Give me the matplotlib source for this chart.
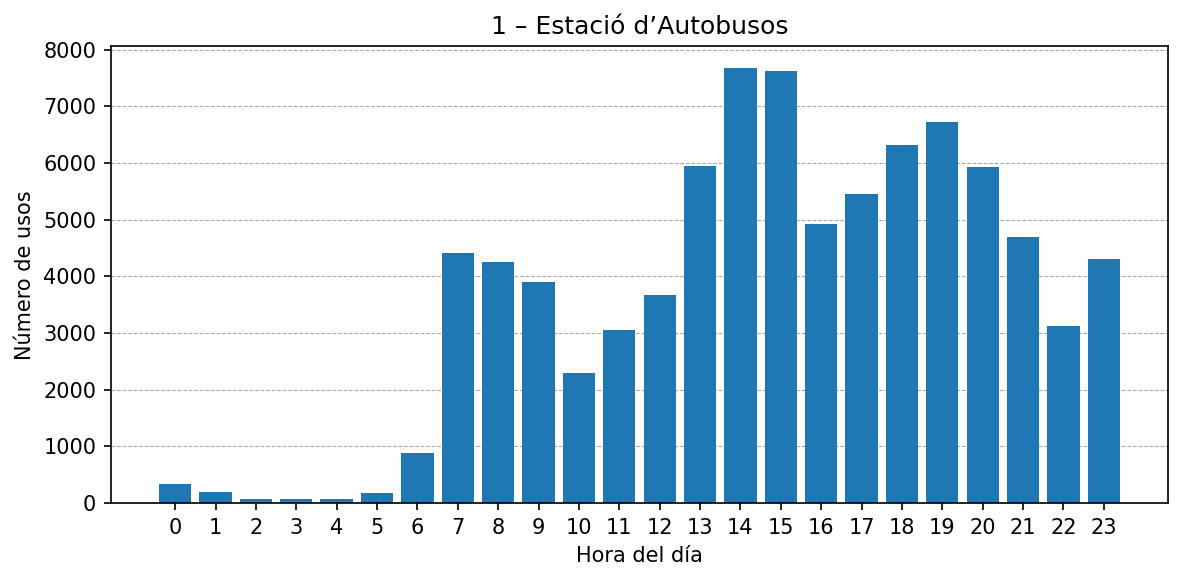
import numpy as np
import matplotlib.pyplot as plt

horas = list(range(24))
usos = [330, 200, 80, 80, 80, 180, 890, 4420, 4260, 3900, 2290, 3050,
        3670, 5950, 7670, 7620, 4930, 5460, 6320, 6720, 5920, 4700, 3120, 4300]

titulo = "1 – Estació d’Autobusos"

fig, ax = plt.subplots(figsize=(1184/150, 581/150), dpi=150)
fig.subplots_adjust(left=0.0937, right=0.9865, top=0.92, bottom=0.134)

ax.bar(horas, usos, color='#1f77b4')
ax.set_xticks(horas)
ax.set_title(titulo, fontsize=12)
ax.set_xlabel("Hora del día")
ax.set_ylabel("Número de usos")
ax.grid(axis='y', linestyle='--', linewidth=0.5, color='gray', alpha=0.7)
ax.set_axisbelow(True)

fig.savefig("out.png", dpi=150)
